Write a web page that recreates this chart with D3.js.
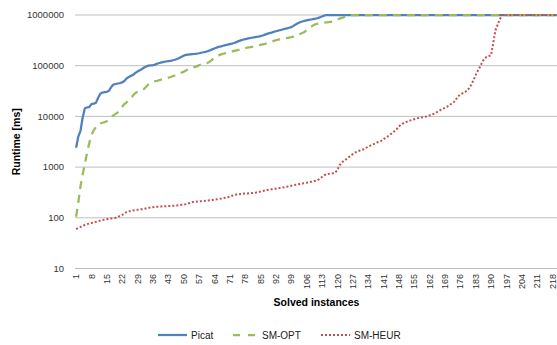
<!DOCTYPE html>
<html>
<head>
<meta charset="utf-8">
<script src="https://cdn.jsdelivr.net/npm/d3@7"></script>
<style>
  body { margin: 0; background: #fff; }
  svg { display: block; font-family: "Liberation Sans", Arial, sans-serif; }
</style>
</head>
<body>
<svg id="chart" width="557" height="345"></svg>
<script>
// solved instance index 1..220
var categories = d3.range(1, 221);
var xTickLabels = [1, 8, 15, 22, 29, 36, 43, 50, 57, 64, 71, 78, 85, 92, 99, 106, 113, 120,
  127, 134, 141, 148, 155, 162, 169, 176, 183, 190, 197, 204, 211, 218];
var yTickValues = [10, 100, 1000, 10000, 100000, 1000000];
var seriesNames = ["Picat", "SM-OPT", "SM-HEUR"];

var picat = [
  2400, 4000, 5200, 9500, 14500, 15000, 15300, 17500, 17800, 18500,
  23000, 28000, 29500, 30000, 30500, 32000, 38000, 42500, 43500, 44500,
  45500, 47000, 50000, 56000, 60000, 63000, 66000, 72000, 77000, 81000,
  86000, 92000, 97000, 100000, 101000, 102000, 105000, 110000, 113000, 116000,
  119000, 121000, 123000, 124000, 128000, 131000, 136000, 142000, 150000, 158000,
  163000, 166000, 168000, 170000, 171000, 173000, 176000, 180000, 184000, 188000,
  194000, 201000, 210000, 219000, 228000, 235000, 240000, 247000, 254000, 260000,
  267000, 273000, 280000, 292000, 305000, 315000, 325000, 335000, 342000, 350000,
  356000, 362000, 370000, 376000, 383000, 395000, 410000, 425000, 438000, 450000,
  465000, 478000, 490000, 505000, 518000, 532000, 545000, 560000, 575000, 610000,
  650000, 690000, 720000, 745000, 765000, 785000, 800000, 815000, 830000, 845000,
  870000, 900000, 935000, 970000, 1e6, 1e6, 1e6, 1e6, 1e6, 1e6,
  1e6, 1e6, 1e6, 1e6, 1e6, 1e6, 1e6, 1e6, 1e6, 1e6,
  1e6, 1e6, 1e6, 1e6, 1e6, 1e6, 1e6, 1e6, 1e6, 1e6,
  1e6, 1e6, 1e6, 1e6, 1e6, 1e6, 1e6, 1e6, 1e6, 1e6,
  1e6, 1e6, 1e6, 1e6, 1e6, 1e6, 1e6, 1e6, 1e6, 1e6,
  1e6, 1e6, 1e6, 1e6, 1e6, 1e6, 1e6, 1e6, 1e6, 1e6,
  1e6, 1e6, 1e6, 1e6, 1e6, 1e6, 1e6, 1e6, 1e6, 1e6,
  1e6, 1e6, 1e6, 1e6, 1e6, 1e6, 1e6, 1e6, 1e6, 1e6,
  1e6, 1e6, 1e6, 1e6, 1e6, 1e6, 1e6, 1e6, 1e6, 1e6,
  1e6, 1e6, 1e6, 1e6, 1e6, 1e6, 1e6, 1e6, 1e6, 1e6,
  1e6, 1e6, 1e6, 1e6, 1e6, 1e6, 1e6, 1e6, 1e6, 1e6
];

var smOpt = [
  105, 200, 420, 720, 1200, 1900, 3000, 4300, 5300, 6100,
  6800, 7300, 7500, 7700, 8000, 8800, 9800, 10500, 11200, 12000,
  13500, 15500, 17500, 19000, 21000, 23500, 26000, 29000, 30500, 31500,
  32500, 35000, 39000, 43000, 46000, 48500, 49500, 50500, 52000, 53500,
  55000, 56000, 58000, 60000, 62000, 64000, 66000, 70000, 73000, 76000,
  80000, 85000, 91000, 93000, 94000, 97000, 102000, 106000, 109000, 111000,
  114000, 122000, 132000, 142000, 152000, 160000, 167000, 172000, 177000, 182000,
  187000, 192000, 196000, 200000, 205000, 211000, 217000, 222000, 227000, 231000,
  234000, 239000, 245000, 251000, 257000, 263000, 269000, 275000, 285000, 297000,
  308000, 318000, 326000, 332000, 338000, 345000, 352000, 359000, 366000, 375000,
  385000, 400000, 420000, 442000, 462000, 500000, 540000, 585000, 625000, 655000,
  675000, 690000, 700000, 708000, 714000, 720000, 728000, 750000, 780000, 815000,
  850000, 880000, 910000, 945000, 1e6, 1e6, 1e6, 1e6, 1e6, 1e6,
  1e6, 1e6, 1e6, 1e6, 1e6, 1e6, 1e6, 1e6, 1e6, 1e6,
  1e6, 1e6, 1e6, 1e6, 1e6, 1e6, 1e6, 1e6, 1e6, 1e6,
  1e6, 1e6, 1e6, 1e6, 1e6, 1e6, 1e6, 1e6, 1e6, 1e6,
  1e6, 1e6, 1e6, 1e6, 1e6, 1e6, 1e6, 1e6, 1e6, 1e6,
  1e6, 1e6, 1e6, 1e6, 1e6, 1e6, 1e6, 1e6, 1e6, 1e6,
  1e6, 1e6, 1e6, 1e6, 1e6, 1e6, 1e6, 1e6, 1e6, 1e6,
  1e6, 1e6, 1e6, 1e6, 1e6, 1e6, 1e6, 1e6, 1e6, 1e6,
  1e6, 1e6, 1e6, 1e6, 1e6, 1e6, 1e6, 1e6, 1e6, 1e6,
  1e6, 1e6, 1e6, 1e6, 1e6, 1e6, 1e6, 1e6, 1e6, 1e6
];

var smHeur = [
  60, 63, 66, 69, 72, 75, 77, 79, 81, 83,
  85, 88, 90, 92, 94, 96, 97, 98, 100, 104,
  109, 114, 122, 130, 134, 137, 140, 142, 144, 146,
  148, 151, 154, 157, 160, 162, 164, 165, 166, 167,
  168, 169, 170, 171, 172, 173, 175, 177, 180, 183,
  186, 192, 198, 204, 207, 209, 211, 213, 215, 217,
  219, 222, 225, 228, 231, 235, 239, 244, 249, 254,
  262, 272, 282, 288, 292, 295, 298, 300, 302, 304,
  307, 311, 316, 322, 329, 338, 347, 355, 360, 365,
  370, 376, 382, 389, 396, 403, 411, 419, 428, 437,
  447, 456, 465, 474, 484, 493, 503, 513, 524, 536,
  552, 590, 640, 690, 720, 735, 745, 755, 775, 880,
  1080, 1230, 1330, 1430, 1540, 1670, 1800, 1930, 2020, 2100,
  2180, 2250, 2380, 2530, 2650, 2780, 2900, 3050, 3150, 3300,
  3550, 3800, 4050, 4350, 4700, 5100, 5600, 6300, 6900, 7300,
  7650, 7950, 8250, 8550, 8800, 9050, 9300, 9500, 9650, 9800,
  10100, 10500, 10900, 11300, 11900, 12600, 13400, 14100, 14800, 15500,
  16500, 17800, 19000, 21500, 25000, 27000, 28500, 30000, 32000, 36000,
  42000, 52000, 65000, 80000, 95000, 118000, 138000, 150000, 155000, 160000,
  280000, 500000, 640000, 820000, 1e6, 1e6, 1e6, 1e6, 1e6, 1e6,
  1e6, 1e6, 1e6, 1e6, 1e6, 1e6, 1e6, 1e6, 1e6, 1e6,
  1e6, 1e6, 1e6, 1e6, 1e6, 1e6, 1e6, 1e6, 1e6, 1e6
];

var svg = d3.select("#chart");
var plotLeft = 75, plotRight = 558, plotTop = 15, plotBottom = 268.5;

var x = d3.scaleBand().domain(categories).range([plotLeft, plotRight]).padding(0);
var cx = function (c) { return x(c) + x.bandwidth() / 2; };
var y = d3.scaleLog().domain([10, 1000000]).range([plotBottom, plotTop]);

// horizontal gridlines
svg.append("g")
  .selectAll("line")
  .data(yTickValues)
  .enter().append("line")
  .attr("x1", plotLeft).attr("x2", plotRight)
  .attr("y1", function (d) { return y(d); })
  .attr("y2", function (d) { return y(d); })
  .attr("stroke", "#bfbfbf")
  .attr("stroke-width", 1);

// y tick labels
svg.append("g")
  .selectAll("text")
  .data(yTickValues)
  .enter().append("text")
  .attr("x", 64)
  .attr("y", function (d) { return y(d); })
  .attr("dy", "0.35em")
  .attr("text-anchor", "end")
  .attr("font-size", "9.5px")
  .attr("fill", "#333")
  .text(function (d) { return d; });

// x tick labels, rotated
svg.append("g")
  .selectAll("text")
  .data(xTickLabels)
  .enter().append("text")
  .attr("transform", function (d) { return "translate(" + cx(d) + ",274) rotate(-90)"; })
  .attr("dy", "0.35em")
  .attr("text-anchor", "end")
  .attr("font-size", "9px")
  .attr("fill", "#333")
  .text(function (d) { return d; });

// axis titles
svg.append("text")
  .attr("transform", "translate(20," + ((plotTop + plotBottom) / 2) + ") rotate(-90)")
  .attr("text-anchor", "middle")
  .attr("font-size", "10.5px")
  .attr("font-weight", "bold")
  .attr("fill", "#000")
  .text("Runtime [ms]");

svg.append("text")
  .attr("x", (plotLeft + plotRight) / 2)
  .attr("y", 306)
  .attr("text-anchor", "middle")
  .attr("font-size", "10.5px")
  .attr("font-weight", "bold")
  .attr("fill", "#000")
  .text("Solved instances");

// series
var styles = [
  { color: "#4f81bd", dash: null, width: 2.25 },
  { color: "#9bbb59", dash: "8,6", width: 2.25 },
  { color: "#c0504d", dash: "2,2", width: 2 }
];
var allSeries = [picat, smOpt, smHeur];

var line = d3.line()
  .x(function (d, i) { return cx(categories[i]); })
  .y(function (d) { return y(d); });

allSeries.forEach(function (vals, k) {
  svg.append("path")
    .datum(vals)
    .attr("fill", "none")
    .attr("stroke", styles[k].color)
    .attr("stroke-width", styles[k].width)
    .attr("stroke-dasharray", styles[k].dash)
    .attr("stroke-linejoin", "round")
    .attr("d", line);
});

// legend
var legendStart = [158, 229, 321];
var legend = svg.append("g")
  .selectAll("g")
  .data(seriesNames)
  .enter().append("g")
  .attr("transform", function (d, i) { return "translate(" + legendStart[i] + ",335)"; });

legend.append("line")
  .attr("x1", function (d, i) { return i === 1 ? 4 : 0; })
  .attr("x2", function (d, i) { return i === 1 ? 26 : 29; })
  .attr("stroke", function (d, i) { return styles[i].color; })
  .attr("stroke-width", function (d, i) { return styles[i].width; })
  .attr("stroke-dasharray", function (d, i) { return i === 1 ? "7,8" : styles[i].dash; });

legend.append("text")
  .attr("x", 33)
  .attr("dy", "0.35em")
  .attr("font-size", "10px")
  .attr("fill", "#222")
  .text(function (d) { return d; });
</script>
</body>
</html>
